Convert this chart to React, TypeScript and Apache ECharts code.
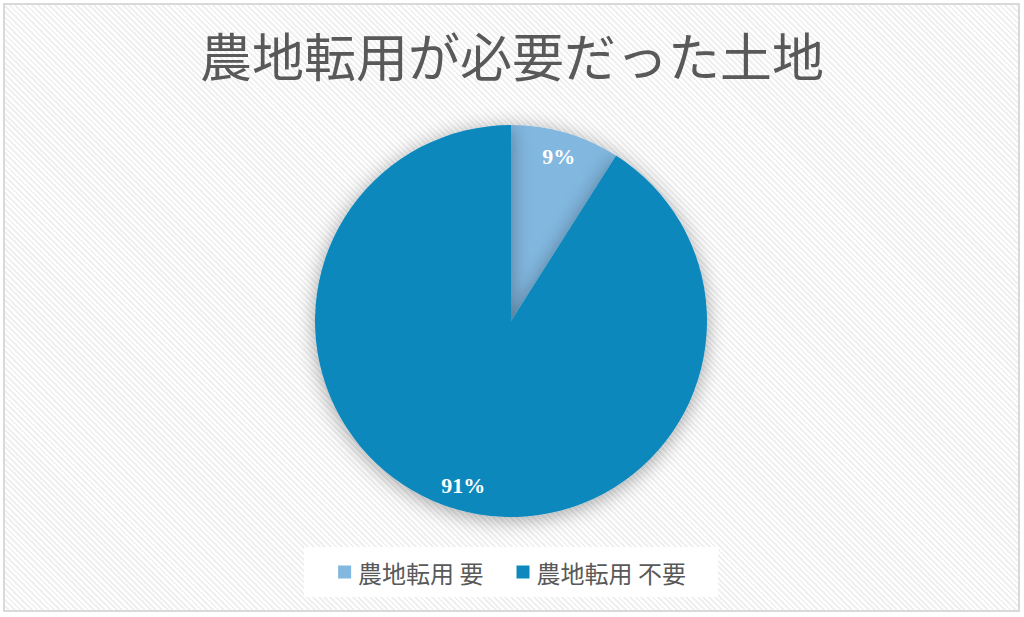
import React, { useEffect, useRef } from "react";
import * as echarts from "echarts";

const titleText = "農地転用が必要だった土地";
const categories = ["農地転用 要", "農地転用 不要"];
const values = [9, 91];
const colors = ["#82b7df", "#0f88bd"];

export default function App() {
  const ref = useRef<HTMLDivElement>(null);
  useEffect(() => {
    if (!ref.current) return;
    const chart = echarts.init(ref.current, null, { renderer: "svg" });
    const data = categories.map((name, i) => ({ name, value: values[i], itemStyle: { color: colors[i] } }));
    chart.setOption({
      animation: false,
      title: {
        text: titleText,
        left: "center",
        top: 23,
        textStyle: {
          fontFamily: "'Noto Sans CJK JP', serif",
          fontWeight: "normal",
          fontSize: 52,
          color: "#595959",
        },
      },
      legend: {
        bottom: 20,
        left: "center",
        data: categories,
        icon: "rect",
        itemWidth: 13,
        itemHeight: 13,
        itemGap: 33,
        backgroundColor: "#ffffff",
        padding: [13, 32, 13, 34],
        textStyle: {
          fontFamily: "'Noto Sans CJK JP', sans-serif",
          fontSize: 24,
          color: "#595959",
          padding: [0, 0, 0, 2],
        },
      },
      series: [
        {
          type: "pie",
          center: [511, 321],
          radius: [0, 196],
          startAngle: 90,
          clockwise: true,
          data,
          label: { show: false },
          labelLine: { show: false },
          itemStyle: {
            shadowBlur: 20,
            shadowColor: "rgba(0,0,0,0.35)",
            shadowOffsetY: 3,
          },
          emphasis: { disabled: true },
        },
        {
          type: "pie",
          center: [511, 321],
          radius: [140, 196],
          startAngle: 90,
          clockwise: true,
          silent: true,
          legendHoverLink: false,
          data: categories.map((name, i) => ({ name: name + " ", value: values[i], itemStyle: { color: "rgba(0,0,0,0)" } })),
          label: {
            show: true,
            position: "inside",
            formatter: "{d}%",
            color: "#ffffff",
            fontFamily: "'Liberation Serif', serif",
            fontWeight: "bold",
            fontSize: 22,
          },
          labelLine: { show: false },
          emphasis: { disabled: true },
        },
      ],
    });
    return () => chart.dispose();
  }, []);
  return (
    <div
      style={{
        position: "absolute",
        left: 0,
        top: 0,
        width: 1024,
        height: 617,
        background: "#ffffff",
      }}
    >
      <div
        style={{
          position: "absolute",
          left: 3,
          top: 3,
          width: 1013,
          height: 605,
          border: "2px solid #d9d9d9",
          backgroundColor: "#ffffff",
          backgroundImage:
            "repeating-linear-gradient(45deg, #ffffff 0px, #ffffff 2px, #f0f0f0 2px, #f0f0f0 4px)",
        }}
      />
      <div ref={ref} style={{ position: "absolute", left: 0, top: 0, width: 1024, height: 617 }} />
    </div>
  );
}
